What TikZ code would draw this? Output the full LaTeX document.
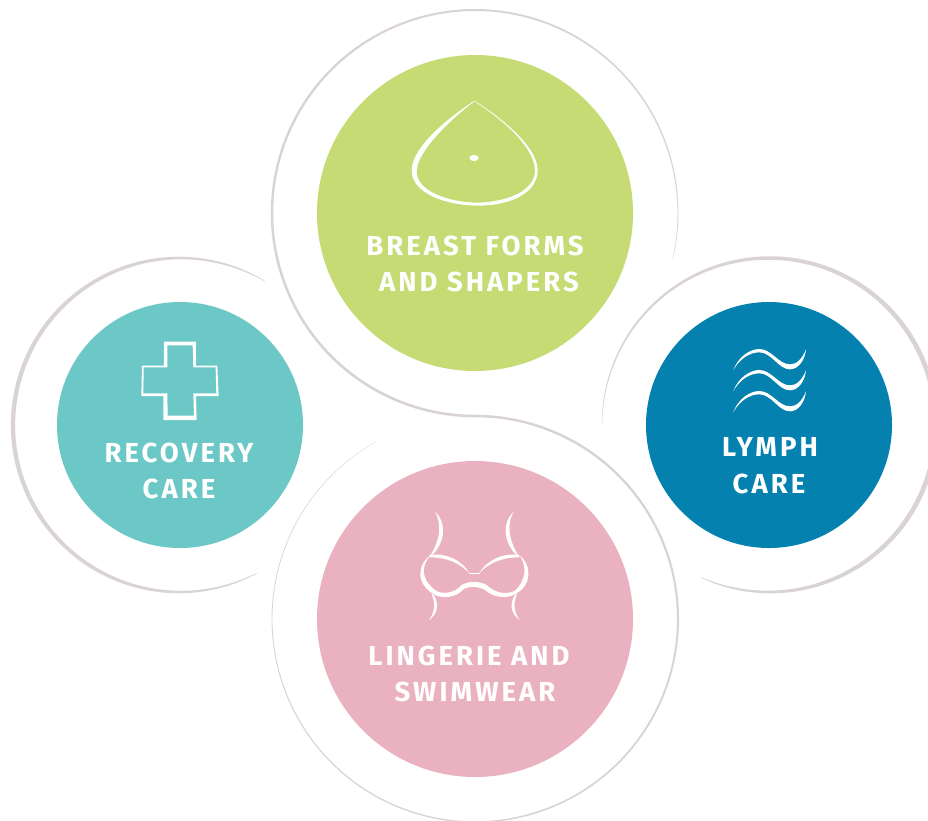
\documentclass[tikz,border=0pt]{standalone}
\usepackage{fontspec}
\setmainfont{Fira Sans}
\newfontfamily\lblfont[LetterSpace=11,BoldFont={Fira Sans Bold}]{Fira Sans}
\definecolor{cgreen}{HTML}{C6DB73}
\definecolor{cteal}{HTML}{6CC8C7}
\definecolor{cblue}{HTML}{0481AE}
\definecolor{cpink}{HTML}{EAB1C1}
\definecolor{cring}{HTML}{D9D4D3}
\newcommand{\taperarc}[6]{%
  \fill[cring] plot[variable=\t,domain=#4:#5,samples=140,smooth] ({#1+(#3+(#6)/2)*cos(\t)},{#2+(#3+(#6)/2)*sin(\t)})
   -- plot[variable=\t,domain=#5:#4,samples=140,smooth] ({#1+(#3-(#6)/2)*cos(\t)},{#2+(#3-(#6)/2)*sin(\t)}) -- cycle;}
\tikzset{
  disc/.style={circle,inner sep=0pt,minimum size=#1},
  lbl/.style={anchor=base,text=white,inner sep=0pt,font=\lblfont\bfseries\fontsize{27.5}{30}\selectfont},
  icon/.style={fill=white,even odd rule,draw=none},
  zoomed/.style={shift={(#1)},x=0.3333pt,y=-0.3333pt}
}
\begin{document}
\begin{tikzpicture}[x=1pt,y=-1pt]
\useasboundingbox (0,0) rectangle (928,820);
\clip (0,0) rectangle (928,820);
\fill[white] (0,0) rectangle (928,820);
% rings
\taperarc{475}{213}{203}{13}{-270}{0.3+2.3*(abs(sin((13-\t)/283*90))+0.001)^0.5}
\taperarc{475}{619}{203}{-90}{241}{0.25+2.3*(abs(1-(\t+90)/331)+0.001)^0.8}
\taperarc{180}{425}{167}{-59.4}{-297.5}{0.3+4*(abs(sin((\t+59.4)/(-238.1)*180))+0.001)^0.6}
\taperarc{769}{425}{167}{180}{474}{0.3+4.5*(abs(sin((((\t-180)/294)+0.001)^1.4*180))+0.001)^0.6}
% discs
\node[disc=316pt,fill=cgreen] (green) at (475,213) {};
\node[disc=316pt,fill=cpink] (pink) at (475,619) {};
\node[disc=246pt,fill=cteal] (teal) at (180,425) {};
\node[disc=246pt,fill=cblue] (blue) at (769,425) {};
% labels
\node[lbl] (t1a) at (475,255.5) {BREAST FORMS};
\node[lbl] (t1b) at (479,291) {AND SHAPERS};
\node[lbl] (t2a) at (179,462.5) {RECOVERY};
\node[lbl] (t2b) at (179,498.5) {CARE};
\node[lbl] (t3a) at (770,456.5) {LYMPH};
\node[lbl] (t3b) at (769,493.5) {CARE};
\node[lbl] (t4a) at (469,665.5) {LINGERIE AND};
\node[lbl] (t4b) at (475,701.5) {SWIMWEAR};
% breast form icon
\begin{scope}[zoomed={390,80}]
\fill[icon] (252,63) .. controls (150,130) and (65,210) .. (65,272) .. controls (65,340) and (170,377) .. (265,377) .. controls (360,377) and (443,340) .. (443,270) .. controls (443,200) and (330,110) .. (255,63) -- cycle
 (252,65) .. controls (180,120) and (80,215) .. (80,275) .. controls (80,335) and (180,368) .. (265,368) .. controls (350,365) and (435,335) .. (435,270) .. controls (432,195) and (325,110) .. (255,65) -- cycle;
\fill[white] (238,234) .. controls (238,222) and (266,222) .. (266,234) .. controls (266,246) and (238,246) .. (238,234) -- cycle;
\end{scope}
% bra icon
\begin{scope}[zoomed={400,500}]
\fill[icon] (92,165) .. controls (55,190) and (42,250) .. (105,285) .. controls (130,297) and (170,292) .. (190,268) .. controls (205,258) and (235,258) .. (255,270) .. controls (285,297) and (330,295) .. (350,280) .. controls (400,250) and (392,190) .. (358,165)
 .. controls (380,195) and (380,240) .. (345,272) .. controls (320,285) and (285,280) .. (260,255) .. controls (240,243) and (205,243) .. (185,255) .. controls (165,280) and (125,285) .. (105,270) .. controls (60,235) and (65,195) .. (92,165) -- cycle;
\foreach \sx/\ox in {1/0,-1/446}{
\begin{scope}[x=0.3333*\sx pt,shift={(\ox*\sx,0)}]
\fill[white] (88,165) .. controls (140,158) and (185,180) .. (210,222) .. controls (180,188) and (140,172) .. (88,172) -- cycle;
\fill[white] (105,35) .. controls (138,65) and (138,120) .. (100,162) -- (92,165) .. controls (122,115) and (125,70) .. (105,35) -- cycle;
\fill[white] (100,283) .. controls (118,310) and (115,340) .. (87,360) .. controls (105,335) and (107,310) .. (95,283) -- cycle;
\end{scope}}
\fill[white] (207,219) -- (240,219) -- (240,221) -- (207,221) -- cycle;
\end{scope}
% waves icon
\begin{scope}[zoomed={710,335}]
\foreach \dy in {0,63,126}{
\fill[white] (70,105+\dy) .. controls (85,65+\dy) and (120,42+\dy) .. (148,42+\dy) .. controls (185,42+\dy) and (205,88+\dy) .. (240,88+\dy) .. controls (258,88+\dy) and (275,75+\dy) .. (288,43+\dy) .. controls (285,75+\dy) and (265,103+\dy) .. (240,103+\dy) .. controls (205,103+\dy) and (185,52+\dy) .. (148,52+\dy) .. controls (120,52+\dy) and (90,70+\dy) .. (70,105+\dy) -- cycle;}
\end{scope}
% cross icon
\begin{scope}[zoomed={125,330}]
\fill[icon] (117,35) -- (213,35) -- (213,107) -- (277,107) -- (281,198) -- (213,198) -- (215,270) -- (115,270) -- (115,198) -- (49,198) -- (51,107) -- (117,107) -- cycle
 (127,46) -- (203,46) -- (205,112) -- (272,112) -- (274,190) -- (205,190) -- (207,257) -- (128,257) -- (127,190) -- (55,190) -- (56,112) -- (127,112) -- cycle;
\end{scope}
\end{tikzpicture}
\end{document}
